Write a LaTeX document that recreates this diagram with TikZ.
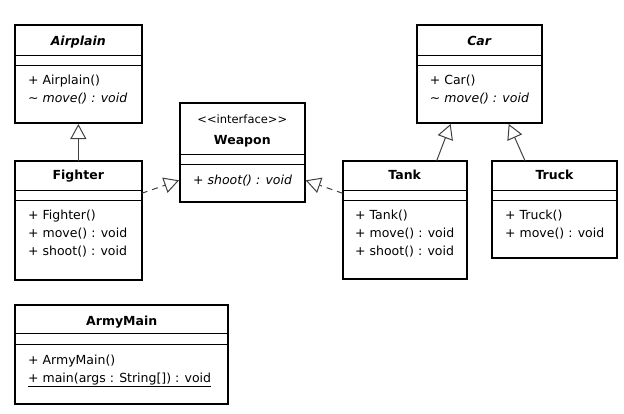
\documentclass[tikz,border=0pt]{standalone}
\usepackage{fontspec}
\setmainfont{DejaVu Sans}
\usetikzlibrary{arrows.meta,calc}
\begin{document}
\begin{tikzpicture}[x=1pt,y=-1pt,
  umlbox/.style={draw=black, line width=1.8pt, fill=white, rectangle, anchor=north west, outer sep=0pt, inner sep=0pt},
  sep/.style={line width=1pt, draw=black},
  title/.style={font=\fontsize{12.5}{15}\selectfont\bfseries, inner sep=0pt, text height=9pt, text depth=3pt},
  member/.style={font=\fontsize{12.5}{15}\selectfont, anchor=west, inner sep=0pt, text height=9pt, text depth=3pt},
  stereo/.style={font=\fontsize{11.5}{14}\selectfont, inner sep=0pt, text height=9pt, text depth=3pt},
  gen/.style={draw=black!75, line width=1pt, shorten >=1pt, -{Triangle[fill=white, length=15pt, width=16pt]}},
  real/.style={gen, dash pattern=on 6pt off 5pt},
]
\useasboundingbox (0,0) rectangle (624,413);

% boxes
\node[umlbox, minimum width=126.7pt, minimum height=98pt] (airplain) at (15,25) {};
\node[umlbox, minimum width=126.7pt, minimum height=119.3pt] (fighter) at (15,160.7) {};
\node[umlbox, minimum width=124.7pt, minimum height=98.4pt] (weapon) at (180,103.3) {};
\node[umlbox, minimum width=125pt, minimum height=98pt] (car) at (416.7,25) {};
\node[umlbox, minimum width=124pt, minimum height=118.6pt] (tank) at (342.7,160.7) {};
\node[umlbox, minimum width=124.4pt, minimum height=97.6pt] (truck) at (492.3,160.7) {};
\node[umlbox, minimum width=213.3pt, minimum height=99pt] (armymain) at (15,305) {};

% separators
\draw[sep] (airplain.west |- 0,55) -- (airplain.east |- 0,55);
\draw[sep] (airplain.west |- 0,65) -- (airplain.east |- 0,65);
\draw[sep] (fighter.west |- 0,190.7) -- (fighter.east |- 0,190.7);
\draw[sep] (fighter.west |- 0,200) -- (fighter.east |- 0,200);
\draw[sep] (weapon.west |- 0,154.3) -- (weapon.east |- 0,154.3);
\draw[sep] (weapon.west |- 0,164) -- (weapon.east |- 0,164);
\draw[sep] (car.west |- 0,55) -- (car.east |- 0,55);
\draw[sep] (car.west |- 0,65) -- (car.east |- 0,65);
\draw[sep] (tank.west |- 0,190.7) -- (tank.east |- 0,190.7);
\draw[sep] (tank.west |- 0,200) -- (tank.east |- 0,200);
\draw[sep] (truck.west |- 0,190.7) -- (truck.east |- 0,190.7);
\draw[sep] (truck.west |- 0,200) -- (truck.east |- 0,200);
\draw[sep] (armymain.west |- 0,333.3) -- (armymain.east |- 0,333.3);
\draw[sep] (armymain.west |- 0,344) -- (armymain.east |- 0,344);

% texts
\node[title] (airplainT) at (78.3,42.7) {\itshape Airplain};
\node[member] (airplainM1) at (28,81) {+ Airplain()};
\node[member] (airplainM2) at (28,99) {\itshape \textasciitilde\ move() : void};

\node[title] (fighterT) at (78.3,176.7) {Fighter};
\node[member] (fighterM1) at (28,216) {+ Fighter()};
\node[member] (fighterM2) at (28,234) {+ move() : void};
\node[member] (fighterM3) at (28,252.7) {+ shoot() : void};

\node[stereo] (weaponS) at (242.3,120) {<\kern0pt<interface>\kern0pt>};
\node[title] (weaponT) at (242.3,141.7) {Weapon};
\node[member] (weaponM1) at (193,181) {\itshape + shoot() : void};

\node[title] (carT) at (479.2,42.7) {\itshape Car};
\node[member] (carM1) at (429.7,81) {+ Car()};
\node[member] (carM2) at (429.7,99) {\itshape \textasciitilde\ move() : void};

\node[title] (tankT) at (404.7,176.7) {Tank};
\node[member] (tankM1) at (355,216) {+ Tank()};
\node[member] (tankM2) at (355,234) {+ move() : void};
\node[member] (tankM3) at (355,252.7) {+ shoot() : void};

\node[title] (truckT) at (554.5,176.7) {Truck};
\node[member] (truckM1) at (505,216) {+ Truck()};
\node[member] (truckM2) at (505,234) {+ move() : void};

\node[title] (armymainT) at (121.7,322.7) {ArmyMain};
\node[member] (armymainM1) at (28,361) {+ ArmyMain()};
\node[member] (armymainM2) at (28,379.3) {\underline{+ main(args : String[]) : void}};

% connectors
\draw[gen] (fighter.north) -- (airplain.south);
\draw[gen] ($(tank.north)+(32,0)$) -- ($(car.south)+(-28.2,0)$);
\draw[gen] ($(truck.north)+(-29.5,0)$) -- ($(car.south)+(29.1,0)$);
\draw[real] ($(fighter.north east)+(0,32.6)$) -- ($(weapon.north west)+(0,76.7)$);
\draw[real] ($(tank.north west)+(0,32.6)$) -- ($(weapon.north east)+(0,76.7)$);
\end{tikzpicture}
\end{document}
